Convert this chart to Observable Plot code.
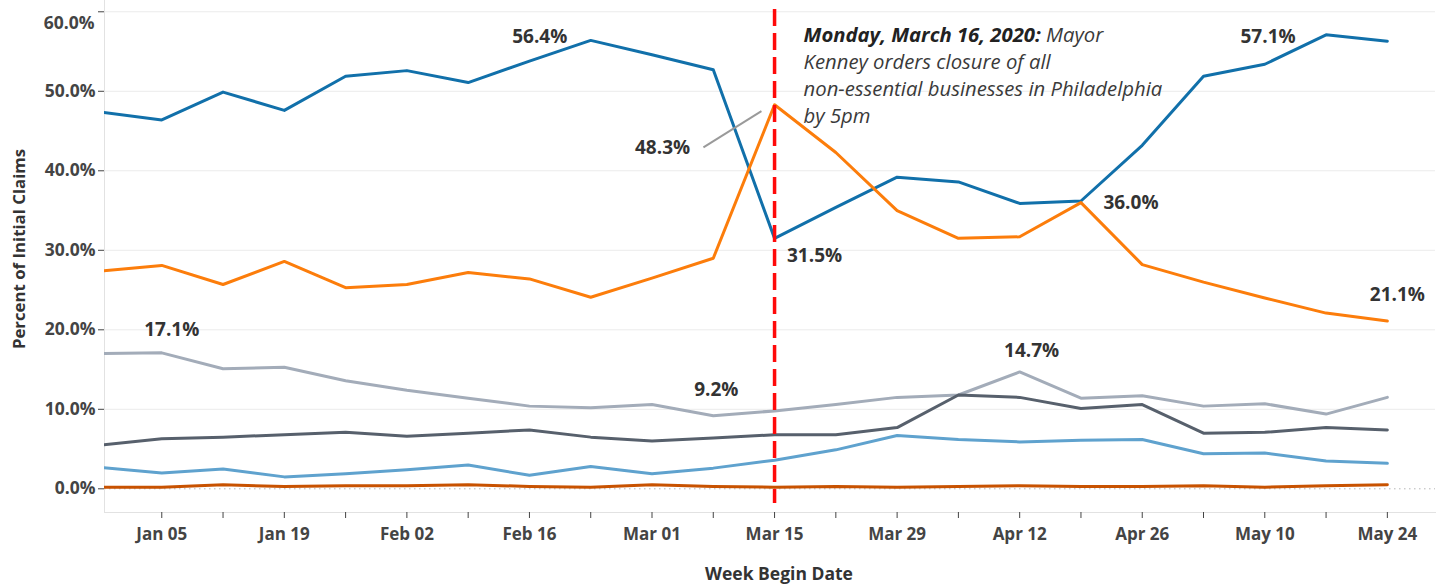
<!DOCTYPE html>
<html>
<head>
<meta charset="utf-8">
<script src="https://cdn.jsdelivr.net/npm/d3@7"></script>
<script src="https://cdn.jsdelivr.net/npm/@observablehq/plot@0.6"></script>
<style>
  html, body { margin: 0; padding: 0; background: #fff; }
  #chart svg { display: block; }
</style>
</head>
<body>
<div id="chart"></div>
<script>
// ---- data ----
const weeks = ["2019-12-29","2020-01-05","2020-01-12","2020-01-19","2020-01-26","2020-02-02",
  "2020-02-09","2020-02-16","2020-02-23","2020-03-01","2020-03-08","2020-03-15","2020-03-22",
  "2020-03-29","2020-04-05","2020-04-12","2020-04-19","2020-04-26","2020-05-03","2020-05-10",
  "2020-05-17","2020-05-24"];

const seriesA = [47.4,46.4,49.9,47.6,51.9,52.6,51.1,53.8,56.4,54.6,52.7,31.5,35.4,39.2,38.6,35.9,36.2,43.2,51.9,53.4,57.1,56.3];
const seriesB = [27.4,28.1,25.7,28.6,25.3,25.7,27.2,26.4,24.1,26.5,29.0,48.3,42.3,35.0,31.5,31.7,36.0,28.2,26.0,24.0,22.1,21.1];
const seriesC = [17.0,17.1,15.1,15.3,13.6,12.4,11.4,10.4,10.2,10.6,9.2,9.8,10.6,11.5,11.8,14.7,11.4,11.7,10.4,10.7,9.4,11.5];
const seriesD = [5.5,6.3,6.5,6.8,7.1,6.6,7.0,7.4,6.5,6.0,6.4,6.8,6.8,7.7,11.8,11.5,10.1,10.6,7.0,7.1,7.7,7.4];
const seriesE = [2.7,2.0,2.5,1.5,1.9,2.4,3.0,1.7,2.8,1.9,2.6,3.6,4.9,6.7,6.2,5.9,6.1,6.2,4.4,4.5,3.5,3.2];
const seriesF = [0.2,0.2,0.5,0.3,0.4,0.4,0.5,0.3,0.2,0.5,0.3,0.2,0.3,0.2,0.3,0.4,0.3,0.3,0.4,0.2,0.4,0.5];

const seriesNames = ["A","B","C","D","E","F"];
const seriesValues = [seriesA, seriesB, seriesC, seriesD, seriesE, seriesF];
const yTicks = [0,10,20,30,40,50,60];
const eventDay = "2020-03-15";
const annotationBold = "Monday, March 16, 2020:";
const annotationLines = [annotationBold + " Mayor", "Kenney orders closure of all", "non-essential businesses in Philadelphia", "by 5pm"];
const xTitle = "Week Begin Date";
const yTitle = "Percent of Initial Claims";
// labelled points: [series index, week index]
const labelled = [[0,8],[0,20],[0,11],[1,16],[1,21],[2,1],[2,10],[2,15],[1,11]];

// ---- styles ----
const palette = ["#1170aa","#fc7d0b","#a3acb9","#57606c","#5fa2ce","#c85200"];
const drawOrder = [2,3,4,0,1,5];
const labelOffsets = [[-51,-4],[-58,2],[40,18],[50,0],[10,-26],[10,-23],[3,-26],[12,-21],[-112,43]];
const FONT = "'Open Sans', 'DejaVu Sans', sans-serif";

// ---- build table ----
const parse = d3.utcParse("%Y-%m-%d");
const dates = weeks.map(parse);
const rows = [];
for (const s of drawOrder) {
  seriesValues[s].forEach((v, i) => rows.push({date: dates[i], series: seriesNames[s], value: v}));
}
const eventDate = parse(eventDay);
const fmtTick = d3.utcFormat("%b %d");
const fmtPct = d => d.toFixed(1) + "%";
const first = dates[1];
const tickDates = dates.slice(1);
const yTop = yTicks[yTicks.length - 1];

const labelMarks = labelled.map(([s, i], k) => Plot.text([{date: dates[i], value: seriesValues[s][i]}], {
  x: "date", y: "value", text: d => fmtPct(d.value),
  dx: labelOffsets[k][0], dy: labelOffsets[k][1],
  fontFamily: FONT, fontWeight: 700, fontSize: 19, fill: "#333"
}));

// leader line for the 48.3% label, relative to the orange peak
const peak = {date: dates[11], value: seriesB[11]};
const leader = Plot.link([peak], {
  x1: d => d3.utcHour.offset(d.date, -195), y1: d => d.value - 5.35,
  x2: d => d3.utcHour.offset(d.date, -36), y2: d => d.value - 0.8,
  stroke: "#9a9a9a", strokeWidth: 2
});

const chart = Plot.plot({
  width: 1437,
  height: 585,
  marginLeft: 104,
  marginRight: 2,
  marginTop: 0,
  marginBottom: 73,
  style: {fontFamily: FONT, color: "#444", background: "#fff"},
  x: {type: "utc", domain: [d3.utcHour.offset(dates[0], 11), d3.utcHour.offset(dates[dates.length-1], 132)]},
  y: {domain: [-2.98, 61.42]},
  color: {domain: seriesNames, range: palette},
  marks: [
    Plot.gridY(yTicks.filter(d => d !== 0), {stroke: "#ebebeb", strokeOpacity: 1}),
    Plot.ruleY([0], {stroke: "#b5b5b5", strokeDasharray: "1.5,3.5"}),
    Plot.frame({anchor: "left", stroke: "#e2e2e2"}),
    Plot.frame({anchor: "bottom", stroke: "#e2e2e2"}),
    Plot.axisY({ticks: yTicks, tickFormat: d => (d === yTop ? "" : fmtPct(d)), tickSize: 6, tickPadding: 3,
      label: null, fontSize: 17.5, fontWeight: 700, fill: "#444", stroke: "#444"}),
    // top tick label sits just below its tick, as in the reference
    Plot.text([yTop], {y: d => d, frameAnchor: "left", dx: -10, dy: 11.2, textAnchor: "end", text: fmtPct,
      fontFamily: FONT, fontSize: 17.5, fontWeight: 700, fill: "#444"}),
    Plot.axisX({ticks: tickDates,
      tickFormat: d => (Math.round((d - first) / 6048e5) % 2 === 0 ? fmtTick(d) : ""),
      tickSize: 6, tickPadding: 9, label: null, fontSize: 17, fontWeight: 700, fill: "#444", stroke: "#444"}),
    Plot.line(rows, {x: "date", y: "value", z: "series", stroke: "series", strokeWidth: 3, clip: true}),
    Plot.ruleX([eventDate], {stroke: "#ff0a0a", strokeWidth: 3.5, strokeDasharray: "17,7", insetTop: 9, insetBottom: 9}),
    leader,
    ...labelMarks,
    Plot.text([annotationLines.join("\n")], {
      x: () => eventDate, frameAnchor: "top", dx: 29, dy: 22.5, text: d => d,
      textAnchor: "start", lineAnchor: "top", lineHeight: 1.33,
      fontFamily: FONT, fontStyle: "italic", fontSize: 20.3, fill: "#3a3a3a"
    }),
    Plot.text([yTitle], {frameAnchor: "left", dx: -85, dy: -7.5, rotate: -90, text: d => d,
      textAnchor: "middle", fontFamily: FONT, fontWeight: 700, fontSize: 16.8, fill: "#333"}),
    Plot.text([xTitle], {frameAnchor: "bottom", dx: 9, dy: 67, text: d => d,
      fontFamily: FONT, fontWeight: 700, fontSize: 17.5, fill: "#333"})
  ]
});

document.getElementById("chart").appendChild(chart);

// make the date in the annotation bold italic
chart.querySelectorAll("tspan, text").forEach(el => {
  if (el.childElementCount === 0 && el.textContent === annotationLines[0]) {
    el.textContent = "";
    const b = document.createElementNS("http://www.w3.org/2000/svg", "tspan");
    b.setAttribute("font-weight", "700");
    b.setAttribute("fill", "#222");
    b.textContent = annotationBold;
    el.appendChild(b);
    el.appendChild(document.createTextNode(" Mayor"));
  }
});
</script>
</body>
</html>
